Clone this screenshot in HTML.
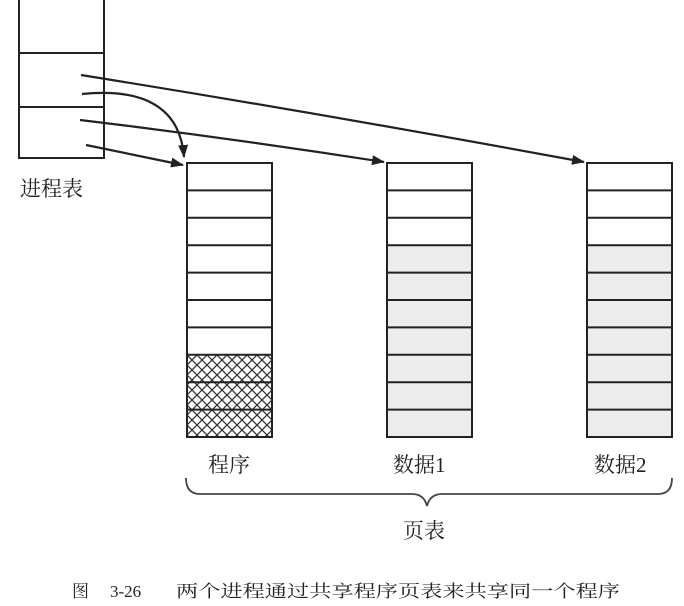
<!DOCTYPE html>
<html><head><meta charset="utf-8"><style>
html,body{margin:0;padding:0;background:#fff;width:684px;height:606px;overflow:hidden}
svg text{font-family:"Liberation Serif","Noto Serif CJK SC",serif;fill:#222}
</style></head><body>
<svg width="684" height="606" viewBox="0 0 684 606" xmlns="http://www.w3.org/2000/svg">
<defs>
<pattern id="h" width="10" height="10" patternUnits="userSpaceOnUse" x="187" y="355">
<rect width="10" height="10" fill="#fff"/>
<path d="M0,0L10,10M10,0L0,10" stroke="#333" stroke-width="1.3"/>
</pattern>
<marker id="a" markerWidth="13" markerHeight="10" refX="12" refY="5" orient="auto" markerUnits="userSpaceOnUse">
<path d="M0,0L13,5L0,10z" fill="#222"/>
</marker>
</defs>
<g stroke="#222" stroke-width="2" fill="none">
<path d="M19,0V158H104V0"/>
<line x1="19" y1="53" x2="104" y2="53"/>
<line x1="19" y1="107" x2="104" y2="107"/>
</g>
<g stroke="#222" stroke-width="2.2" fill="none" marker-end="url(#a)">
<path d="M81,75 Q330,115 584,162"/>
<path d="M82,94 C140,88 180,105 184,157"/>
<path d="M80,120 Q230,138 384,162"/>
<path d="M86,145 L183,165"/>
</g>
<rect x="187" y="355" width="85" height="82" fill="url(#h)"/>
<rect x="387" y="244" width="85" height="193" fill="#ececec"/>
<rect x="587" y="244" width="85" height="193" fill="#ececec"/>
<g stroke="#222" stroke-width="2" fill="none">
<rect x="187" y="163" width="85" height="274"/>
<rect x="387" y="163" width="85" height="274"/>
<rect x="587" y="163" width="85" height="274"/>
<path d="M187,190.4H272M187,217.8H272M187,245.2H272M187,272.6H272M187,300H272M187,327.4H272M187,354.8H272M187,382.2H272M187,409.6H272"/>
<path d="M387,190.4H472M387,217.8H472M387,245.2H472M387,272.6H472M387,300H472M387,327.4H472M387,354.8H472M387,382.2H472M387,409.6H472"/>
<path d="M587,190.4H672M587,217.8H672M587,245.2H672M587,272.6H672M587,300H672M587,327.4H672M587,354.8H672M587,382.2H672M587,409.6H672"/>
</g>
<path d="M186,478 Q186,494 200,494 H412 Q424,494 427,506 Q430,494 442,494 H658 Q672,494 672,478" stroke="#444" stroke-width="1.8" fill="none"/>
<text x="20" y="196" font-size="21">进程表</text>
<text x="208" y="472" font-size="21">程序</text>
<text x="393" y="472" font-size="21">数据1</text>
<text x="594" y="472" font-size="21">数据2</text>
<text x="403" y="538" font-size="21">页表</text>
<text x="72" y="597" font-size="17">图</text>
<text x="110" y="597" font-size="17">3-26</text>
<text x="176" y="597" font-size="17" textLength="444" lengthAdjust="spacingAndGlyphs">两个进程通过共享程序页表来共享同一个程序</text>
</svg>
</body></html>
